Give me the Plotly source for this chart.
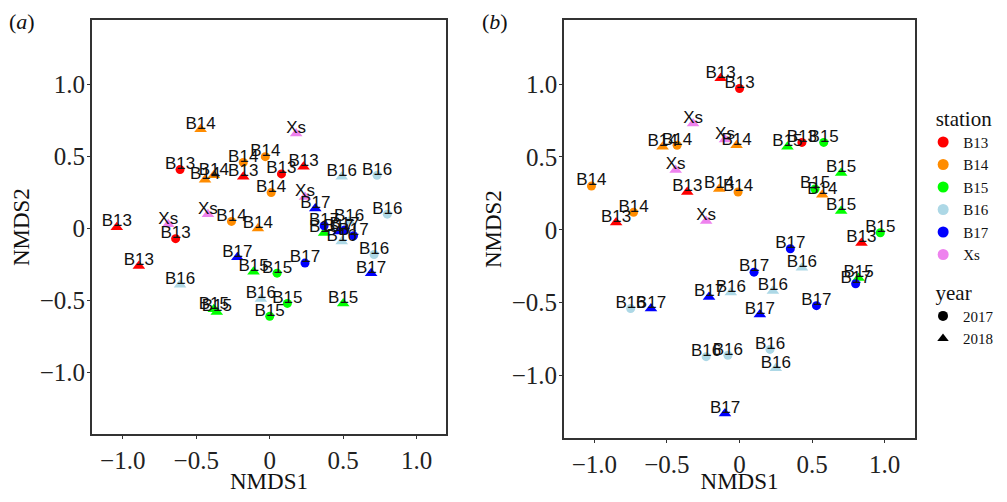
import plotly.graph_objects as go

# ---------------- data ----------------
stations = ["B13", "B14", "B15", "B16", "B17", "Xs"]
station_colors = ["#FF0000", "#FF8C00", "#00FF00", "#ADD8E6", "#0000FF", "#EE82EE"]
years = ["2017", "2018"]
year_symbols = ["circle", "triangle-up"]

# panel (a)
a_station = ["B14", "B13", "B14", "B14", "B14", "B13", "B14", "B14", "Xs", "B14",
             "B14", "B13", "Xs", "B13", "B17", "B13", "Xs", "B13", "B13", "B16",
             "B16", "Xs", "B17", "B16", "B17", "B15", "B16", "B17", "B17", "B17",
             "B16", "B16", "B17", "B16", "B15", "B15", "B15", "B15", "B16", "B15",
             "B17", "B15", "B15"]
a_year = ["2018", "2017", "2018", "2018", "2017", "2018", "2017", "2017", "2018", "2017",
          "2018", "2018", "2018", "2017", "2018", "2018", "2018", "2018", "2017", "2018",
          "2017", "2018", "2018", "2017", "2017", "2018", "2018", "2018", "2017", "2017",
          "2018", "2017", "2017", "2018", "2018", "2018", "2018", "2017", "2018", "2017",
          "2018", "2017", "2018"]
a_x = [-0.47, -0.61, -0.44, -0.38, -0.18, -0.18, -0.03, 0.01, -0.42, -0.26,
       -0.08, -1.04, -0.69, -0.64, -0.22, -0.89, 0.18, 0.23, 0.08, 0.49,
       0.73, 0.24, 0.31, 0.80, 0.37, 0.37, 0.49, 0.47, 0.51, 0.57,
       0.54, 0.71, 0.24, -0.61, -0.38, -0.36, -0.11, 0.05, -0.06, 0.00,
       0.69, 0.12, 0.50]
a_y = [0.69, 0.41, 0.34, 0.37, 0.46, 0.36, 0.50, 0.25, 0.10, 0.05,
       0.00, 0.01, 0.03, -0.07, -0.20, -0.26, 0.66, 0.43, 0.38, 0.36,
       0.37, 0.22, 0.14, 0.10, 0.02, -0.03, -0.09, -0.02, -0.01, -0.05,
       0.05, -0.18, -0.24, -0.39, -0.56, -0.58, -0.30, -0.31, -0.49, -0.61,
       -0.31, -0.52, -0.52]

# panel (b)
b_station = ["B13", "B13", "Xs", "B14", "B14", "Xs", "B14", "Xs", "B14", "B13",
             "B14", "B14", "B14", "B13", "Xs", "B15", "B13", "B15", "B15", "B15",
             "B14", "B15", "B15", "B13", "B17", "B17", "B16", "B15", "B17", "B16",
             "B16", "B17", "B16", "B17", "B17", "B17", "B16", "B16", "B17", "B16",
             "B16"]
b_year = ["2018", "2017", "2018", "2018", "2017", "2018", "2018", "2018", "2017", "2018",
          "2018", "2017", "2017", "2018", "2018", "2018", "2017", "2017", "2018", "2017",
          "2018", "2018", "2017", "2018", "2017", "2017", "2018", "2018", "2017", "2018",
          "2018", "2017", "2017", "2018", "2018", "2018", "2017", "2017", "2018", "2017",
          "2018"]
b_x = [-0.13, 0.00, -0.32, -0.53, -0.43, -0.10, -0.02, -0.44, -1.02, -0.36,
       -0.14, -0.01, -0.73, -0.85, -0.23, 0.33, 0.43, 0.58, 0.70, 0.52,
       0.57, 0.70, 0.97, 0.84, 0.35, 0.10, 0.43, 0.82, 0.80, 0.23,
       -0.06, 0.53, -0.75, -0.61, -0.21, 0.14, -0.23, -0.08, -0.10, 0.21,
       0.25]
b_y = [1.04, 0.97, 0.73, 0.57, 0.58, 0.62, 0.58, 0.41, 0.30, 0.26,
       0.28, 0.26, 0.12, 0.05, 0.06, 0.57, 0.60, 0.60, 0.39, 0.28,
       0.24, 0.13, -0.02, -0.09, -0.13, -0.29, -0.26, -0.33, -0.37, -0.42,
       -0.43, -0.52, -0.54, -0.54, -0.46, -0.58, -0.87, -0.86, -1.26, -0.82,
       -0.95]

tick_vals = [-1.0, -0.5, 0, 0.5, 1.0]
tick_text = ["\u22121.0", "\u22120.5", "0", "0.5", "1.0"]

# ---------------- figure ----------------
SERIF = "Liberation Serif"
SANS = "Liberation Sans"
label_offset = 0.034  # vertical nudge of the text labels (data units)

# the page body has an 8px margin; size the figure so it fits the window
PAGE_W, PAGE_H, BODY_M = 1007, 502, 8
W, H = PAGE_W - 2 * BODY_M, PAGE_H - 2 * BODY_M


def px_x(p):
    return (p - BODY_M) / W


def px_y(p):
    return (H - (p - BODY_M)) / H


fig = go.Figure()

panels = [
    ("x", "y", a_station, a_year, a_x, a_y),
    ("x2", "y2", b_station, b_year, b_x, b_y),
]

for xa, ya, st, yr, xs, ys in panels:
    for s, col in zip(stations, station_colors):
        for y_, sym in zip(years, year_symbols):
            px = [xs[i] for i in range(len(xs)) if st[i] == s and yr[i] == y_]
            py = [ys[i] for i in range(len(ys)) if st[i] == s and yr[i] == y_]
            if not px:
                continue
            fig.add_trace(go.Scatter(
                x=px, y=py, mode="markers", xaxis=xa, yaxis=ya,
                marker=dict(color=col, symbol=sym,
                            size=11 if sym == "triangle-up" else 9,
                            line=dict(width=0)),
                showlegend=False, hoverinfo="skip"))
    fig.add_trace(go.Scatter(
        x=xs, y=[v + label_offset for v in ys], text=st, mode="text",
        xaxis=xa, yaxis=ya, textposition="middle center",
        textfont=dict(family=SANS, size=17, color="#111111"),
        showlegend=False, hoverinfo="skip"))

# legend entries
for s, col in zip(stations, station_colors):
    fig.add_trace(go.Scatter(
        x=[None], y=[None], mode="markers", name=s, legend="legend",
        marker=dict(color=col, symbol="circle", size=11)))
for y_, sym in zip(years, year_symbols):
    fig.add_trace(go.Scatter(
        x=[None], y=[None], mode="markers", name=y_, legend="legend2",
        marker=dict(color="black", symbol=sym, size=10)))

axis_common = dict(
    showline=True, linecolor="#333333", linewidth=1.5, mirror=True,
    showgrid=False, zeroline=False, ticks="outside", ticklen=3,
    tickcolor="#333333", tickwidth=1,
    tickvals=tick_vals, ticktext=tick_text,
    tickfont=dict(family=SERIF, size=25, color="#222222"),
)
title_font = dict(family=SERIF, size=23, color="#111111")
legend_title_font = dict(family=SERIF, size=21, color="#111111")
legend_font = dict(family=SERIF, size=15, color="#111111")

fig.update_layout(
    width=W, height=H,
    margin=dict(l=0, r=0, t=0, b=0),
    paper_bgcolor="white", plot_bgcolor="white",
    xaxis=dict(domain=[px_x(92), px_x(447)], range=[-1.21, 1.20], anchor="y",
               title=dict(text="NMDS1", font=title_font, standoff=0),
               **axis_common),
    yaxis=dict(domain=[px_y(437), px_y(20)], range=[-1.43, 1.45], anchor="x",
               title=dict(text="NMDS2", font=title_font, standoff=4),
               ticklabelstandoff=-3, **axis_common),
    xaxis2=dict(domain=[px_x(565), px_x(917)], range=[-1.21, 1.21], anchor="y2",
                title=dict(text="NMDS1", font=title_font, standoff=0),
                **axis_common),
    yaxis2=dict(domain=[px_y(441), px_y(20)], range=[-1.43, 1.44], anchor="x2",
                title=dict(text="NMDS2", font=title_font, standoff=4),
                ticklabelstandoff=-3, **axis_common),
    legend=dict(x=px_x(925), y=px_y(99), xanchor="left", yanchor="top",
                title=dict(text="\u00a0\u00a0station", font=legend_title_font),
                font=legend_font,
                bgcolor="rgba(0,0,0,0)", tracegroupgap=0, itemwidth=30),
    legend2=dict(x=px_x(925), y=px_y(274), xanchor="left", yanchor="top",
                 title=dict(text="\u00a0\u00a0year", font=legend_title_font),
                 font=legend_font,
                 bgcolor="rgba(0,0,0,0)", tracegroupgap=0, itemwidth=30),
    annotations=[
        dict(text="(<i>a</i>)", x=0, y=1, xref="paper", yref="paper",
             xanchor="left", yanchor="top", showarrow=False, borderpad=0,
             font=dict(family=SERIF, size=22, color="#111111")),
        dict(text="(<i>b</i>)", x=px_x(482), y=1, xref="paper", yref="paper",
             xanchor="left", yanchor="top", showarrow=False, borderpad=0,
             font=dict(family=SERIF, size=22, color="#111111")),
    ],
)

fig.write_html("out.html")
